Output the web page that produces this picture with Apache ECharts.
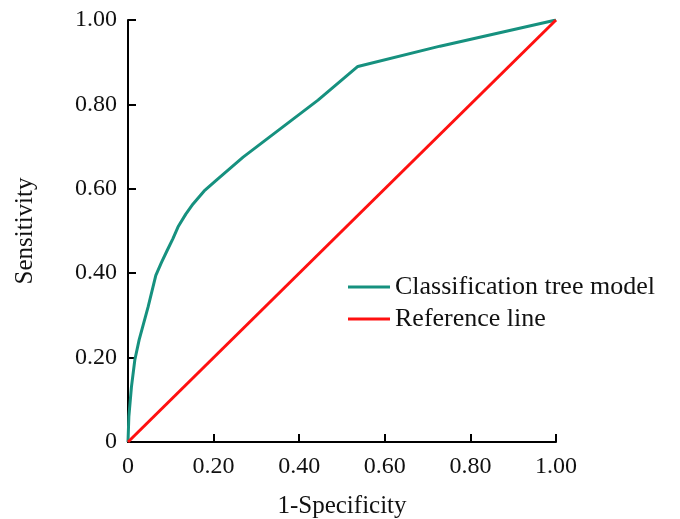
<!DOCTYPE html>
<html>
<head>
<meta charset="utf-8">
<script src="https://cdn.jsdelivr.net/npm/echarts@6/dist/echarts.min.js"></script>
<style>
  html, body { margin: 0; padding: 0; background: #fff; }
  #chart { width: 680px; height: 519px; }
</style>
</head>
<body>
<div id="chart"></div>
<script>
// ROC curve points: [1-specificity, sensitivity]
const treeModel = [
  [0, 0], [0.002, 0.06], [0.008, 0.13], [0.016, 0.195], [0.026, 0.242],
  [0.047, 0.32], [0.065, 0.395], [0.078, 0.425], [0.092, 0.455], [0.105, 0.482],
  [0.117, 0.51], [0.135, 0.54], [0.152, 0.564], [0.178, 0.595], [0.208, 0.622],
  [0.269, 0.675], [0.444, 0.81], [0.537, 0.89], [0.729, 0.938], [1, 1]
];
const referenceLine = [[0, 0], [1, 1]];
const seriesNames = ["Classification tree model", "Reference line"];

const serif = "Liberation Serif";
const fmt = v => (v === 0 ? "0" : v.toFixed(2));

let myChart = echarts.init(document.getElementById("chart"));

myChart.setOption({
  animation: false,
  grid: { left: 128, right: 124, top: 20, bottom: 77, outerBoundsMode: "none", containLabel: false },
  legend: {
    orient: "vertical",
    left: 343,
    top: 269,
    icon: "rect",
    itemWidth: 42,
    itemHeight: 3,
    itemGap: 6,
    textStyle: { fontFamily: serif, fontSize: 26, color: "#111" },
    data: seriesNames,
  },
  xAxis: {
    type: "value",
    min: 0,
    max: 1,
    interval: 0.2,
    name: "1-Specificity",
    nameLocation: "middle",
    nameGap: 52,
    nameTextStyle: { fontFamily: serif, fontSize: 25, color: "#111" },
    splitLine: { show: false },
    axisLine: { lineStyle: { color: "#000", width: 2 } },
    axisTick: { inside: true, length: 8, lineStyle: { color: "#000", width: 2 } },
    axisLabel: { formatter: fmt, fontFamily: serif, fontSize: 24, color: "#111", margin: 13 },
  },
  yAxis: {
    type: "value",
    min: 0,
    max: 1,
    interval: 0.2,
    name: "Sensitivity",
    nameLocation: "middle",
    nameGap: 90,
    nameTextStyle: { fontFamily: serif, fontSize: 25, color: "#111" },
    splitLine: { show: false },
    axisLine: { show: true, lineStyle: { color: "#000", width: 2 } },
    axisTick: { show: true, inside: true, length: 8, lineStyle: { color: "#000", width: 2 } },
    axisLabel: { formatter: fmt, fontFamily: serif, fontSize: 24, color: "#111", margin: 11 },
  },
  series: [
    {
      name: seriesNames[0],
      type: "line",
      data: treeModel,
      symbol: "none",
      lineStyle: { color: "#16917f", width: 3 },
      itemStyle: { color: "#16917f" },
    },
    {
      name: seriesNames[1],
      type: "line",
      data: referenceLine,
      symbol: "none",
      lineStyle: { color: "#ff1010", width: 3 },
      itemStyle: { color: "#ff1010" },
    },
  ],
});
</script>
</body>
</html>
